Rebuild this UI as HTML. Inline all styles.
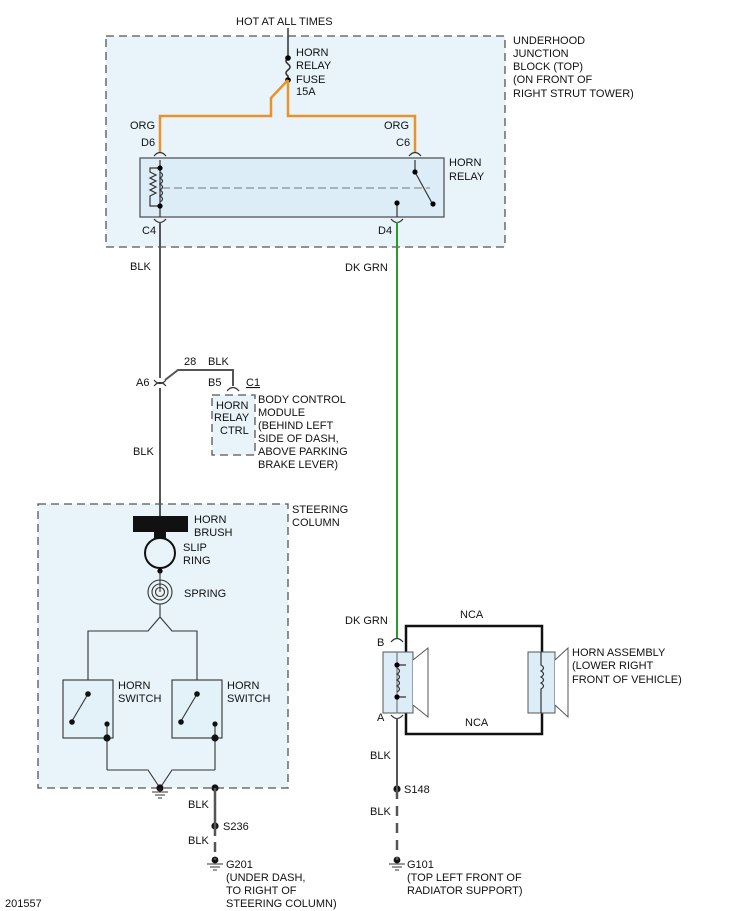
<!DOCTYPE html>
<html><head><meta charset="utf-8"><style>
body{margin:0;background:#fff}
svg{display:block}
text{font-family:"Liberation Sans",sans-serif;font-size:11px;fill:#111}
</style></head><body>
<svg width="739" height="911" viewBox="0 0 739 911" xmlns="http://www.w3.org/2000/svg">
<g stroke="#555" stroke-width="1.3" stroke-dasharray="8,5" fill="#e8f4fa">
<rect x="106" y="36" width="399" height="211"/>
<rect x="38" y="504" width="250" height="284"/>
<rect x="212" y="395" width="43" height="60"/>
</g>
<!-- relay -->
<rect x="140" y="158" width="304" height="59" fill="#dcedf7" stroke="#555" stroke-width="1.3"/>
<line x1="162" y1="188" x2="430" y2="188" stroke="#777" stroke-dasharray="8,4"/>
<!-- top fuse -->
<g stroke="#333" stroke-width="1.5" fill="none">
<line x1="288" y1="28" x2="288" y2="58"/>
<path d="M288 58 q-4 3 0 6 q4 3 0 6 q-4 3 0 6 l0 4"/>
</g>
<circle cx="288" cy="58" r="2.8"/><circle cx="288" cy="80" r="2.8"/>
<g stroke="#e8922a" stroke-width="2.5" fill="none">
<path d="M288 80 L271 98 L271 116 L160 116 L160 152"/>
<path d="M288 80 L288 116 L415 116 L415 152"/>
</g>
<!-- connectors -->
<g stroke="#333" stroke-width="1.2" fill="none">
<path d="M154 156 q6 -7 12 0"/><path d="M409 156 q6 -7 12 0"/>
<path d="M154 219 q6 7 12 0"/><path d="M391 219 q6 7 12 0"/>
<path d="M154 380 q6 7 12 0"/><path d="M154 386 q6 -7 12 0"/>
<path d="M227 391 q6 -7 12 0"/>
<path d="M391 642 q6 -7 12 0"/><path d="M391 715 q6 7 12 0"/>
</g>
<!-- coil left -->
<g stroke="#333" stroke-width="1.2" fill="none">
<line x1="160" y1="160" x2="160" y2="217"/>
<path d="M160 168 L150 168 L150 172 l6 3 l-6 3 l6 3 l-6 3 l6 3 l-6 3 l6 3 l-6 3 L150 206 L160 206"/>
<path d="M160 172 q5 3 0 6 q5 3 0 6 q5 3 0 6 q5 3 0 6 q5 3 0 6"/>
<line x1="415" y1="160" x2="415" y2="172"/>
<line x1="415" y1="172" x2="432" y2="203"/>
<line x1="397" y1="204" x2="397" y2="217"/>
</g>
<circle cx="160" cy="168" r="2.6"/><circle cx="160" cy="206" r="2.6"/>
<circle cx="415" cy="172" r="2.6"/><circle cx="433" cy="204" r="2.6"/><circle cx="397" cy="203" r="2.6"/>
<!-- left wire -->
<g stroke="#555" stroke-width="2" fill="none">
<line x1="160" y1="222" x2="160" y2="378"/>
<line x1="160" y1="388" x2="160" y2="516"/>
<path d="M165 380 L178 370 L233 370 L233 386"/>
</g>
<!-- green -->
<line x1="397" y1="222" x2="397" y2="638" stroke="#2a9a2a" stroke-width="2"/>
<!-- steering -->
<rect x="133" y="516" width="55" height="16" fill="#111"/>
<rect x="154" y="532" width="12" height="6" fill="#111"/>
<circle cx="160" cy="553" r="15" fill="none" stroke="#111" stroke-width="2"/>
<circle cx="160" cy="571" r="2.6"/>
<g stroke="#333" stroke-width="1.1" fill="none">
<circle cx="160" cy="592" r="12"/><circle cx="160" cy="592" r="8"/><circle cx="160" cy="592" r="4.5"/>
<line x1="160" y1="571" x2="160" y2="592"/>
<path d="M160 604 L160 617 L148 631 L88 631 L88 694"/>
<path d="M160 617 L172 631 L197 631 L197 694"/>
<rect x="63" y="680" width="50" height="58" fill="#e3f1f9"/>
<rect x="172" y="680" width="50" height="58" fill="#e3f1f9"/>
<line x1="88" y1="694" x2="72" y2="721"/><line x1="197" y1="694" x2="181" y2="721"/>
<line x1="107" y1="724" x2="107" y2="770"/><line x1="215" y1="724" x2="215" y2="770"/>
<path d="M107 770 L148 770 L160 788 L172 770 L215 770"/>
<path d="M152 792 h16 M155 795 h10 M158 798 h4"/>
<path d="M207 864 h16 M210 867 h10 M213 870 h4"/>
<path d="M389 864 h16 M392 867 h10 M395 870 h4"/>
</g>
<g fill="#111">
<circle cx="88" cy="694" r="2.8"/><circle cx="72" cy="722" r="2.8"/><circle cx="197" cy="694" r="2.8"/><circle cx="181" cy="722" r="2.8"/>
<circle cx="107" cy="724" r="2.6"/><circle cx="215" cy="724" r="2.6"/>
<circle cx="107" cy="738" r="3.6"/><circle cx="215" cy="738" r="3.6"/>
<circle cx="160" cy="788" r="3.6"/><circle cx="215" cy="788" r="3.6"/>
<circle cx="215" cy="826" r="3.6"/><circle cx="215" cy="860" r="3.4"/>
<circle cx="397" cy="789" r="3.6"/><circle cx="397" cy="860" r="3.4"/>
</g>
<line x1="160" y1="788" x2="160" y2="792" stroke="#333"/>
<line x1="215" y1="788" x2="215" y2="826" stroke="#555" stroke-width="2.5"/>
<line x1="215" y1="826" x2="215" y2="860" stroke="#555" stroke-width="2.5" stroke-dasharray="10,6"/>
<line x1="397" y1="718" x2="397" y2="789" stroke="#555" stroke-width="2"/>
<line x1="397" y1="789" x2="397" y2="860" stroke="#555" stroke-width="2.5" stroke-dasharray="10,7"/>
<!-- horn -->
<rect x="406" y="626" width="136" height="108" fill="none" stroke="#111" stroke-width="2.5"/>
<rect x="383" y="652" width="30" height="61" fill="#dcedf7" stroke="#555"/>
<path d="M413 660 L428 648 L428 717 L413 705" fill="#fff" stroke="#555"/>
<rect x="528" y="652" width="27" height="61" fill="#dcedf7" stroke="#555"/>
<path d="M555 660 L568 648 L568 717 L555 705" fill="#fff" stroke="#555"/>
<g stroke="#333" stroke-width="1.2" fill="none">
<line x1="397" y1="652" x2="397" y2="713" stroke="#777"/>
<path d="M397 665 L406 665 M397 697 L406 697"/>
<path d="M397 668 q5 3 0 6 q5 3 0 6 q5 3 0 6 q5 3 0 6"/>
<path d="M541 652 L541 665 q5 3 0 6 q5 3 0 6 q5 3 0 6 q5 3 0 6 L541 713"/>
</g>
<circle cx="397" cy="665" r="2.6"/><circle cx="397" cy="697" r="2.6"/>
<!-- labels -->
<text x="236" y="25">HOT AT ALL TIMES</text>
<text x="296" y="56">HORN</text><text x="296" y="69">RELAY</text><text x="296" y="83">FUSE</text><text x="296" y="95">15A</text>
<text x="513" y="44">UNDERHOOD</text><text x="513" y="57">JUNCTION</text><text x="513" y="70">BLOCK (TOP)</text><text x="513" y="83">(ON FRONT OF</text><text x="513" y="97">RIGHT STRUT TOWER)</text>
<text x="130" y="129">ORG</text><text x="141" y="146">D6</text>
<text x="384" y="129">ORG</text><text x="396" y="146">C6</text>
<text x="449" y="166">HORN</text><text x="449" y="180">RELAY</text>
<text x="142" y="234">C4</text><text x="378" y="234">D4</text>
<text x="130" y="270">BLK</text><text x="345" y="271">DK GRN</text>
<text x="184" y="365">28</text><text x="208" y="365">BLK</text>
<text x="136" y="386">A6</text><text x="208" y="386">B5</text>
<text x="246" y="386" text-decoration="underline">C1</text>
<text x="216" y="409">HORN</text><text x="214" y="421">RELAY</text><text x="220" y="434">CTRL</text>
<text x="258" y="403">BODY CONTROL</text><text x="258" y="416">MODULE</text><text x="258" y="429">(BEHIND LEFT</text><text x="258" y="442">SIDE OF DASH,</text><text x="258" y="455">ABOVE PARKING</text><text x="258" y="468">BRAKE LEVER)</text>
<text x="133" y="455">BLK</text>
<text x="292" y="513">STEERING</text><text x="292" y="526">COLUMN</text>
<text x="194" y="523">HORN</text><text x="194" y="536">BRUSH</text>
<text x="183" y="551">SLIP</text><text x="183" y="564">RING</text>
<text x="184" y="597">SPRING</text>
<text x="118" y="689">HORN</text><text x="118" y="702">SWITCH</text>
<text x="227" y="689">HORN</text><text x="227" y="702">SWITCH</text>
<text x="345" y="624">DK GRN</text><text x="460" y="618">NCA</text><text x="465" y="726">NCA</text>
<text x="377" y="646">B</text><text x="377" y="721">A</text>
<text x="572" y="656">HORN ASSEMBLY</text><text x="572" y="669">(LOWER RIGHT</text><text x="572" y="683">FRONT OF VEHICLE)</text>
<text x="370" y="759">BLK</text><text x="404" y="793">S148</text><text x="370" y="815">BLK</text>
<text x="188" y="808">BLK</text><text x="223" y="830">S236</text><text x="188" y="844">BLK</text>
<text x="226" y="868">G201</text><text x="226" y="881">(UNDER DASH,</text><text x="226" y="894">TO RIGHT OF</text><text x="226" y="907">STEERING COLUMN)</text>
<text x="407" y="868">G101</text><text x="407" y="881">(TOP LEFT FRONT OF</text><text x="407" y="894">RADIATOR SUPPORT)</text>
<text x="5" y="907">201557</text>
</svg>
</body></html>
